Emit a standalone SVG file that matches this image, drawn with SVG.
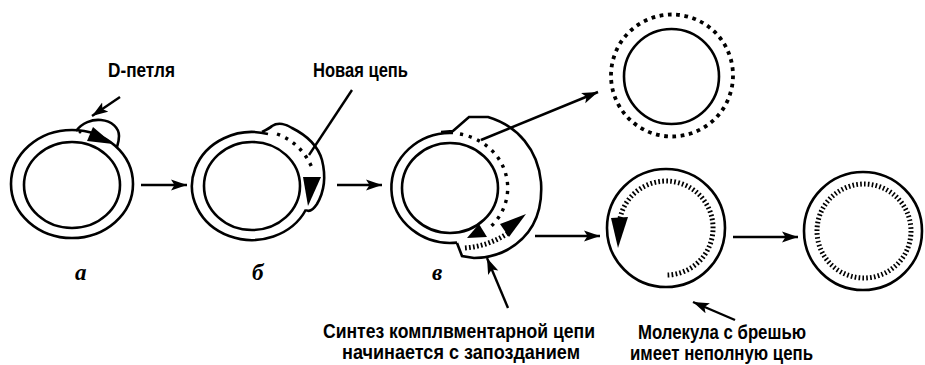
<svg xmlns="http://www.w3.org/2000/svg" width="925" height="365" viewBox="0 0 925 365">
  <defs>
    <marker id="head" markerUnits="userSpaceOnUse" markerWidth="18" markerHeight="12" refX="16" refY="6" orient="auto">
      <path d="M0,0.5 L16,6 L0,11.5 L3.5,6 Z" fill="#000"/>
    </marker>
    <style>
      .ring { fill: none; stroke: #000; stroke-width: 2.6; }
      .line { fill: none; stroke: #000; stroke-width: 2.6; }
      .ptr { fill: none; stroke: #000; stroke-width: 2.4; }
      .dots { fill: none; stroke: #000; stroke-width: 3.4; stroke-dasharray: 3.2 5.8; }
      .ticks { fill: none; stroke: #000; stroke-width: 5; stroke-dasharray: 1.7 2.3; }
      .head { fill: #000; }
      .lbl { font-family: "Liberation Sans", Arial, sans-serif; font-size: 20.5px; font-weight: bold; fill: #000; }
      .tag { font-family: "Liberation Serif", "Times New Roman", serif; font-size: 23px; font-style: italic; font-weight: bold; fill: #000; }
    </style>
  </defs>

  <!-- stage a: ring with D-loop -->
  <g id="stage-a">
    <ellipse class="ring" cx="72" cy="184" rx="61" ry="54"/>
    <ellipse class="ring" cx="72" cy="185" rx="48" ry="43"/>
    <path class="ring" d="M76,131 C82,123 92,119 101,120 C112,121 119,128 119,136 C119,141 118,144 117,147"/>
    <circle class="head" cx="80" cy="132" r="1.5"/>
    <path class="head" d="M93,127 L113,144 L87,141 Z"/>
  </g>

  <!-- stage b: new strand displacing the loop -->
  <g id="stage-b">
    <path class="ring" d="M268,134 A60,54 0 1 0 306,209.5"/>
    <ellipse class="ring" cx="252" cy="186" rx="48" ry="44"/>
    <path class="ring" d="M262,132 C266,130 270,128 272,126 C278,122 286,124 292,128 C306,135 318,146 322,160 C326,176 324,192 317,204 C313,210 309,212 306,210"/>
    <path class="dots" d="M277,134 Q302,143 313,170"/>
    <path class="head" d="M303,177 L321,177 L308,206 Z"/>
  </g>

  <!-- stage c: displaced strand and delayed complementary synthesis -->
  <g id="stage-c">
    <path class="ring" d="M453,133 A59,55 0 1 0 457,242.6"/>
    <ellipse class="ring" cx="450" cy="188" rx="48" ry="45"/>
    <path class="ring" d="M441,132 L453,131 L469,117 L488,117 C518,126 538,150 541,182 C543,212 532,236 507,250 C496,256 484,258 474,258 L462,256 L457,243"/>
    <path class="dots" d="M460,134 A59,55 0 0 1 488,229"/>
    <path class="ticks" d="M465,248 Q489,246 508,233"/>
    <path class="head" d="M467,238 L479,224 L487,237 Z"/>
    <path class="head" d="M526,214 L500,224 L509,237 Z"/>
  </g>

  <!-- completed daughter molecule -->
  <g id="molecule-complete">
    <circle class="ring" cx="671.5" cy="76.5" r="47.5"/>
    <circle fill="none" stroke="#000" stroke-width="3.8" stroke-dasharray="0.45 0.55" pathLength="46" cx="672" cy="75.5" r="61"/>
  </g>

  <!-- gapped molecule with incomplete strand -->
  <g id="molecule-gapped">
    <circle class="ring" cx="666" cy="228" r="59"/>
    <path class="ticks" d="M667.6,275 A47,47 0 1 0 619.5,221.5"/>
    <path class="head" d="M611,218 L628,217 L618,248 Z"/>
  </g>

  <!-- repaired molecule -->
  <g id="molecule-repaired">
    <circle class="ring" cx="863" cy="231" r="59"/>
    <circle fill="none" stroke="#000" stroke-width="5" stroke-dasharray="0.42 0.58" pathLength="76" cx="864" cy="231" r="47"/>
  </g>

  <!-- connectors -->
  <g id="connectors">
    <line class="line" x1="141" y1="185" x2="187" y2="185" marker-end="url(#head)"/>
    <line class="line" x1="337" y1="185" x2="382" y2="185" marker-end="url(#head)"/>
    <line class="line" x1="535" y1="236" x2="600" y2="236" marker-end="url(#head)"/>
    <line class="line" x1="733" y1="237" x2="798" y2="237" marker-end="url(#head)"/>
    <line class="line" x1="481" y1="140" x2="598" y2="92" marker-end="url(#head)"/>
    <line class="ptr" x1="120" y1="97" x2="92" y2="116" marker-end="url(#head)"/>
    <line class="ptr" x1="352" y1="90" x2="309" y2="155"/>
    <line class="ptr" x1="508" y1="308" x2="487" y2="258" marker-end="url(#head)"/>
    <line class="ptr" x1="735" y1="320" x2="693" y2="302" marker-end="url(#head)"/>
  </g>

  <!-- labels -->
  <g id="labels">
    <text class="lbl" x="108" y="77" textLength="67" lengthAdjust="spacingAndGlyphs">D-петля</text>
    <text class="lbl" x="313" y="77" textLength="95" lengthAdjust="spacingAndGlyphs">Новая цепь</text>
    <text class="lbl" x="323" y="338" textLength="272" lengthAdjust="spacingAndGlyphs">Синтез комплвментарной цепи</text>
    <text class="lbl" x="342" y="359" textLength="238" lengthAdjust="spacingAndGlyphs">начинается с  запозданием</text>
    <text class="lbl" x="638" y="339" textLength="168" lengthAdjust="spacingAndGlyphs">Молекула с брешью</text>
    <text class="lbl" x="630" y="360" textLength="183" lengthAdjust="spacingAndGlyphs">имеет неполную цепь</text>
    <text class="tag" x="75" y="280">а</text>
    <text class="tag" x="252" y="280">б</text>
    <text class="tag" x="432" y="280">в</text>
  </g>
</svg>
